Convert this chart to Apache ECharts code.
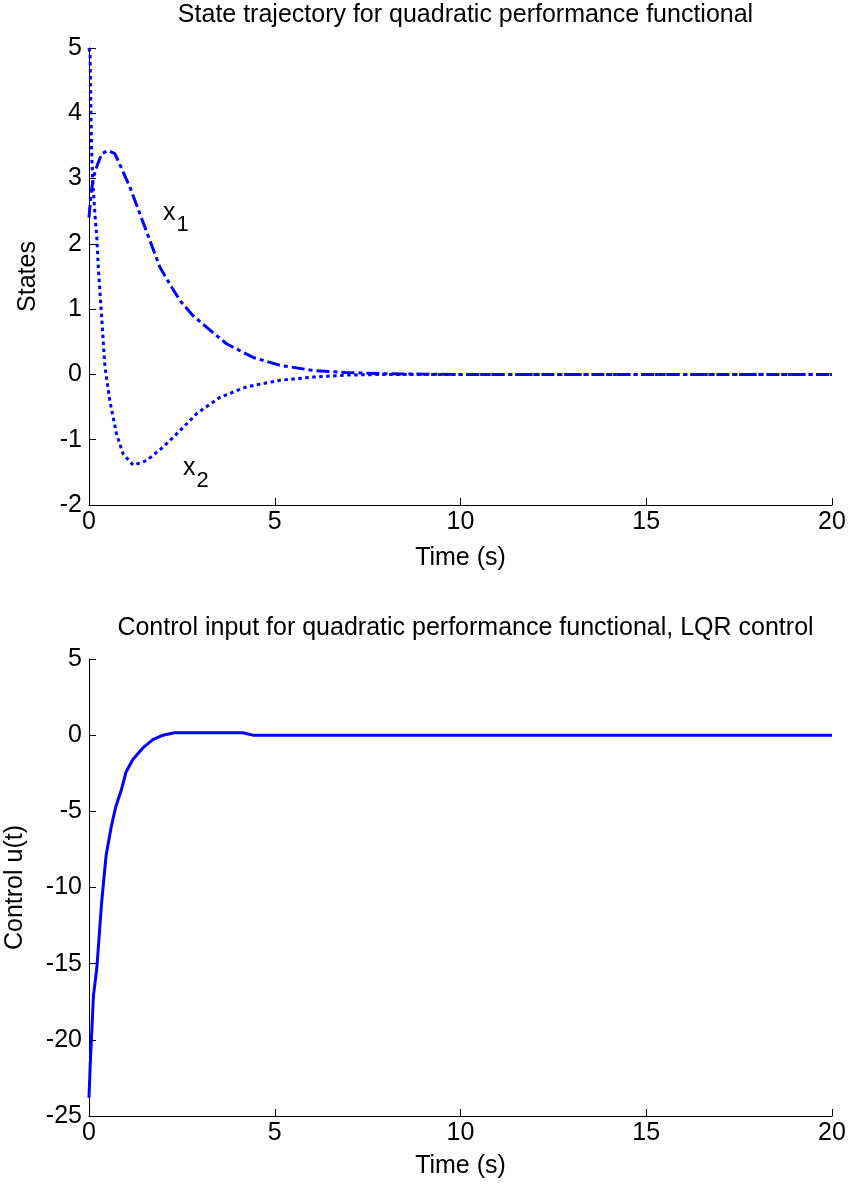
<!DOCTYPE html>
<html>
<head>
<meta charset="utf-8">
<script src="https://cdn.jsdelivr.net/npm/echarts@6/dist/echarts.min.js"></script>
<style>
html,body{margin:0;padding:0;background:#fff;}
#c{width:849px;height:1184px;}
</style>
</head>
<body>
<div id="c"></div>
<script>
// ---- data ----
const x1T = [0, 0.05, 0.12, 0.22, 0.34, 0.51, 0.7, 0.92, 1.1, 1.37, 1.64, 1.91, 2.2, 2.45, 2.8, 3.17, 3.7, 4.42, 5.14, 6.04, 6.9, 8, 10, 12, 15, 20];
const x1V = [2.4, 2.75, 3.02, 3.2, 3.38, 3.43, 3.38, 3.1, 2.87, 2.46, 2.05, 1.64, 1.36, 1.13, 0.9, 0.72, 0.47, 0.26, 0.14, 0.06, 0.03, 0.01, 0, 0, 0, 0];
const x2T = [0, 0.03, 0.05, 0.07, 0.1, 0.16, 0.21, 0.25, 0.34, 0.43, 0.56, 0.74, 0.92, 1.19, 1.55, 2.0, 2.45, 2.9, 3.53, 4.24, 5.14, 6.04, 6.94, 8, 10, 20];
const x2V = [5, 4.9, 4.09, 3.43, 2.97, 2.46, 2.1, 1.64, 0.88, 0.11, -0.4, -0.91, -1.22, -1.39, -1.32, -1.11, -0.86, -0.6, -0.35, -0.19, -0.09, -0.04, -0.01, 0, 0, 0];
const uT = [0, 0.03, 0.07, 0.12, 0.21, 0.34, 0.46, 0.6, 0.72, 0.87, 1.0, 1.18, 1.45, 1.72, 1.99, 2.3, 4.14, 4.41, 20];
const uV = [-23.8, -21.8, -19.7, -17.1, -15.3, -11.0, -7.9, -6.0, -4.7, -3.6, -2.4, -1.6, -0.84, -0.29, 0, 0.16, 0.16, 0, 0];
const xTicks = [0, 5, 10, 15, 20];
const title1 = 'State trajectory for quadratic performance functional';
const title2 = 'Control input for quadratic performance functional, LQR control';
const labels = [{name: 'x', sub: '1', t: 1.99, v: 2.47}, {name: 'x', sub: '2', t: 2.53, v: -1.44}];

const zip = (a, b) => a.map((t, i) => [t, b[i]]);
const FONT = 'Liberation Sans, Arial, Helvetica, sans-serif';
const FS = 25;
const chart = echarts.init(document.getElementById('c'), null, {renderer: 'canvas'});

function xAx(gi, gap) {
  return {
    gridIndex: gi, type: 'value', min: 0, max: 20, interval: 5,
    name: 'Time (s)', nameLocation: 'middle', nameGap: gap,
    nameTextStyle: {fontFamily: FONT, fontSize: FS, color: '#000'},
    axisLine: {show: true, onZero: false, lineStyle: {color: '#000', width: 1}},
    axisTick: {show: true, inside: true, length: 7, lineStyle: {color: '#000'}},
    axisLabel: {fontFamily: FONT, fontSize: FS, color: '#000', margin: 5,
      formatter: v => xTicks.includes(v) ? String(v) : ''},
    splitLine: {show: false}
  };
}
function yAx(gi, min, max, iv, name, gap) {
  return {
    gridIndex: gi, type: 'value', min: min, max: max, interval: iv,
    name: name, nameLocation: 'middle', nameGap: gap,
    nameTextStyle: {fontFamily: FONT, fontSize: FS, color: '#000'},
    axisLine: {show: true, onZero: false, lineStyle: {color: '#000', width: 1}},
    axisTick: {show: true, inside: true, length: 7, lineStyle: {color: '#000'}},
    axisLabel: {fontFamily: FONT, fontSize: FS, color: '#000', margin: 7},
    splitLine: {show: false}
  };
}

chart.setOption({
  animation: false,
  backgroundColor: '#fff',
  title: [
    {text: title1, left: 460.5, top: -2, textAlign: 'center',
      textStyle: {fontFamily: FONT, fontSize: FS, fontWeight: 'normal', color: '#000'}},
    {text: title2, left: 460.5, top: 611, textAlign: 'center',
      textStyle: {fontFamily: FONT, fontSize: FS, fontWeight: 'normal', color: '#000'}}
  ],
  grid: [
    {left: 89, top: 48, width: 743, height: 457, outerBoundsMode: 'none', containLabel: false},
    {left: 89, top: 659, width: 743, height: 457, outerBoundsMode: 'none', containLabel: false}
  ],
  xAxis: [xAx(0, 41), xAx(1, 38)],
  yAxis: [yAx(0, -2, 5, 1, 'States', 48), yAx(1, -25, 5, 5, 'Control u(t)', 61)],
  series: [
    {type: 'line', xAxisIndex: 0, yAxisIndex: 0, data: zip(x1T, x1V), showSymbol: false, symbol: 'none',
      lineStyle: {color: '#0000ff', width: 3, type: [13, 4, 4, 4], cap: 'butt'}},
    {type: 'line', xAxisIndex: 0, yAxisIndex: 0, data: zip(x2T, x2V), showSymbol: false, symbol: 'none',
      lineStyle: {color: '#0000ff', width: 3, type: [3.5, 3.5], cap: 'butt'}},
    {type: 'line', xAxisIndex: 1, yAxisIndex: 1, data: zip(uT, uV), showSymbol: false, symbol: 'none',
      lineStyle: {color: '#0000ff', width: 3, type: 'solid'}}
  ]
});

const g = labels.map(l => {
  const p = chart.convertToPixel({gridIndex: 0}, [l.t, l.v]);
  return {
    type: 'text', x: p[0], y: p[1],
    style: {
      text: '{a|' + l.name + '}{b|' + l.sub + '}',
      rich: {
        a: {fontFamily: FONT, fontSize: FS, fill: '#000', verticalAlign: 'middle'},
        b: {fontFamily: FONT, fontSize: 22, fill: '#000', padding: [24, 0, 0, 1]}
      },
      align: 'left', verticalAlign: 'middle'
    }
  };
});
chart.setOption({graphic: g});
</script>
</body>
</html>
